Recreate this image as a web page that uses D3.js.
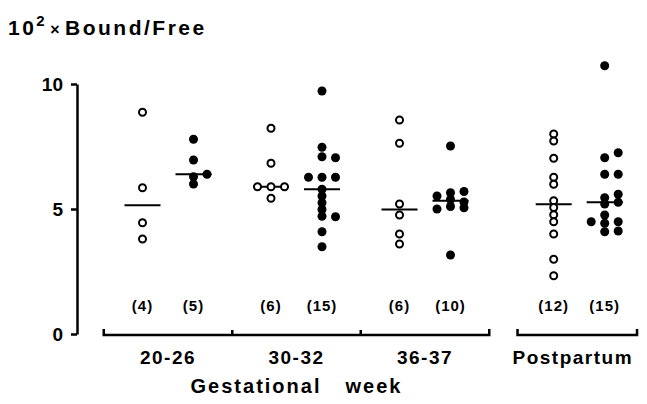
<!DOCTYPE html>
<html lang="en">
<head>
<meta charset="UTF-8">
<title>Bound/Free by gestational week</title>
<script src="https://cdn.jsdelivr.net/npm/d3@7"></script>
<style>
  body { margin: 0; background: #fff; }
  text { font-family: "Liberation Sans", Arial, Helvetica, sans-serif; font-weight: bold; fill: #000; }
  .axis path, .axis line { stroke: #000; stroke-width: 2.5px; }
  .axis text { font-size: 19px; }
  .bracket { fill: none; stroke: #000; stroke-width: 2.5px; }
  .median { stroke: #000; stroke-width: 2px; }
</style>
</head>
<body>
<script>
    // group names on the bottom bracket axis
    var groups = ["20-26", "30-32", "36-37", "Postpartum"];
    var yTicks = [0, 5, 10];

    // open circles, one array per group (10^2 x Bound/Free)
    var open2026 = [8.87, 5.85, 4.45, 3.8];
    var open3032 = [8.23, 6.83, 5.89, 5.89, 5.89, 5.43];
    var open3637 = [8.56, 7.63, 5.2, 4.76, 4.0, 3.6];
    var openPost = [8.0, 7.72, 7.03, 6.27, 5.99, 5.33, 5.06, 4.77, 4.49, 4.0, 2.99, 2.33];

    // filled circles
    var filled2026 = [7.79, 6.96, 6.29, 6.0, 6.39];
    var filled3032 = [9.72, 7.47, 7.09, 7.05, 6.27, 6.27, 6.27, 5.79, 5.52, 5.25, 4.98, 4.71, 4.69, 4.09, 3.49];
    var filled3637 = [7.52, 5.65, 5.38, 5.1, 5.7, 5.52, 5.05, 5.0, 5.28, 3.16];
    var filledPost = [10.73, 7.05, 7.25, 6.39, 6.39, 5.45, 5.59, 5.2, 5.27, 4.76, 4.43, 4.49, 4.49, 4.09, 4.12];

    var openSeries = [open2026, open3032, open3637, openPost];
    var filledSeries = [filled2026, filled3032, filled3637, filledPost];

    var width = 647, height = 404;
    var pairHalf = 25.5,   // distance of each column from group centre
        step = 13.5,       // sideways shift for overlapping dots
        minGap = 0.22;     // closer than this (in data units) counts as overlap

    var y = d3.scaleLinear().domain([0, 10]).range([334, 84]);
    var xg = d3.scaleLinear().domain([0, 2]).range([168, 425]);
    // postpartum sits a little further out than the weekly groups
    function gpos(i) { return i < 3 ? i : 3.2; }

    var svg = d3.select("body").append("svg")
        .attr("width", width)
        .attr("height", height);

    // spread dots sideways when they would sit on top of each other
    function swarm(vals) {
        var placed = [];
        var slots = [0, 1, -1, 2, -2];
        return vals.map(function(v) {
            for (var k = 0; k < slots.length; k++) {
                var s = slots[k];
                var hit = placed.some(function(p) { return p.slot === s && Math.abs(p.v - v) < minGap; });
                if (!hit) { placed.push({v: v, slot: s}); return {v: v, slot: s}; }
            }
            return {v: v, slot: 0};
        });
    }

    // title
    var title = svg.append("text")
        .attr("x", 8)
        .attr("y", 35)
        .style("letter-spacing", "2.5px");
    title.append("tspan").style("font-size", "21px").text("10");
    title.append("tspan").style("font-size", "15px").attr("dy", -9).text("2");
    title.append("tspan").style("font-size", "16px").attr("dy", 9).attr("dx", 3).text("×");
    title.append("tspan").style("font-size", "21px").attr("dx", 3).text("Bound/Free");

    // y axis
    svg.append("g")
        .attr("class", "axis")
        .attr("transform", "translate(77,0)")
        .call(d3.axisLeft(y).tickValues(yTicks).tickSize(6).tickSizeOuter(0).tickPadding(8));

    // dots and medians
    [0, 1, 2, 3].forEach(function(i) {
        var cx = xg(gpos(i));
        [[openSeries[i], -1, true], [filledSeries[i], 1, false]].forEach(function(s) {
            var vals = s[0], colX = cx + s[1] * pairHalf, isOpen = s[2];
            var g = svg.append("g");

            g.append("line")
                .attr("class", "median")
                .attr("x1", colX - 18)
                .attr("x2", colX + 18)
                .attr("y1", y(d3.median(vals)))
                .attr("y2", y(d3.median(vals)));

            g.selectAll("circle")
                .data(swarm(vals))
                .enter().append("circle")
                .attr("cx", function(d) { return colX + d.slot * step; })
                .attr("cy", function(d) { return y(d.v); })
                .attr("r", isOpen ? 3.5 : 4.5)
                .style("fill", isOpen ? "#fff" : "#000")
                .style("stroke", "#000")
                .style("stroke-width", isOpen ? 2 : 0);

            svg.append("text")
                .attr("x", colX)
                .attr("y", 311)
                .style("text-anchor", "middle")
                .style("font-size", "15px")
                .style("letter-spacing", "1px")
                .text("(" + vals.length + ")");
        });
    });

    // bottom brackets
    var by = 335, tick = 6;
    var gest = d3.path();
    gest.moveTo(xg(-0.5), by - tick);
    gest.lineTo(xg(-0.5), by);
    gest.lineTo(xg(2.5), by);
    gest.lineTo(xg(2.5), by - tick);
    [0.5, 1.5].forEach(function(t) {
        gest.moveTo(xg(t), by);
        gest.lineTo(xg(t), by - tick + 1);
    });
    svg.append("path").attr("class", "bracket").attr("d", gest.toString());

    var post = d3.path();
    post.moveTo(xg(2.72), by - tick);
    post.lineTo(xg(2.72), by);
    post.lineTo(xg(3.65), by);
    post.lineTo(xg(3.65), by - tick);
    svg.append("path").attr("class", "bracket").attr("d", post.toString());

    svg.selectAll(".glabel")
        .data(groups)
        .enter().append("text")
        .attr("class", "glabel")
        .attr("x", function(d, i) { return i < 3 ? xg(i) : xg(3.15); })
        .attr("y", 364)
        .style("text-anchor", "middle")
        .style("font-size", "19px")
        .style("letter-spacing", "1.5px")
        .text(function(d) { return d; });

    // x-axis label
    var xl = svg.append("text")
        .attr("x", xg(1))
        .attr("y", 393)
        .style("text-anchor", "middle")
        .style("font-size", "20px")
        .style("letter-spacing", "2px");
    xl.append("tspan").text("Gestational");
    xl.append("tspan").attr("dx", 24).text("week");
</script>
</body>
</html>
